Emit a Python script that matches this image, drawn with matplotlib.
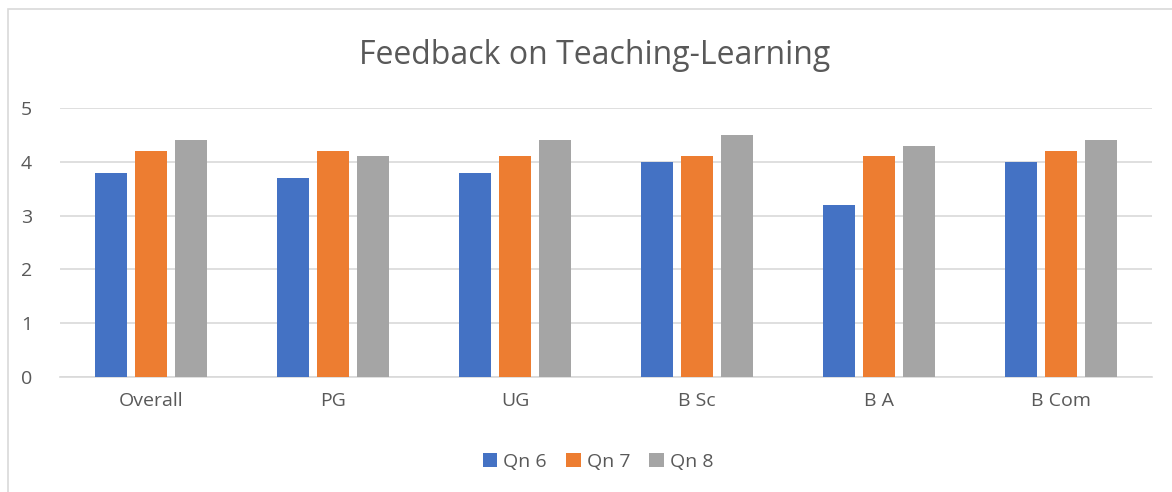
import matplotlib
matplotlib.use("Agg")
import matplotlib.pyplot as plt
import numpy as np
from matplotlib.patches import Rectangle

categories = ["Overall", "PG", "UG", "B Sc", "B A", "B Com"]
series_names = ["Qn 6", "Qn 7", "Qn 8"]
qn6 = [3.8, 3.7, 3.8, 4.0, 3.2, 4.0]
qn7 = [4.2, 4.2, 4.1, 4.1, 4.1, 4.2]
qn8 = [4.4, 4.1, 4.4, 4.5, 4.3, 4.4]
yticks = [0, 1, 2, 3, 4, 5]
colors = ["#4472C4", "#ED7D31", "#A5A5A5"]

plt.rcParams['font.family'] = ['Open Sans', 'DejaVu Sans']
W, H = 1172, 492
fig = plt.figure(figsize=(W / 100, H / 100), dpi=100)
ax = fig.add_axes([60 / W, 1 - 377 / H, (1152 - 60) / W, (377 - 108) / H])

x = np.arange(len(categories))
pitch = 0.22
width = 0.176
for i, (vals, name, c) in enumerate(zip([qn6, qn7, qn8], series_names, colors)):
    ax.bar(x + (i - 1) * pitch, vals, width=width, color=c, label=name, zorder=3)

ax.set_xlim(-0.5, len(categories) - 0.5)
ax.set_ylim(0, 5)
ax.set_yticks(yticks)
ax.set_xticks(x)
ax.set_xticklabels(categories)
ax.yaxis.grid(True, color="#D9D9D9", linewidth=1.2, zorder=0)
for s in ["top", "right", "left"]:
    ax.spines[s].set_visible(False)
ax.spines["bottom"].set_color("#D9D9D9")
ax.spines["bottom"].set_linewidth(1.2)
ax.tick_params(axis="both", length=0, labelsize=14, colors="#595959")
ax.tick_params(axis="y", pad=20)
ax.tick_params(axis="x", pad=11)

fig.text(595 / W, 1 - 55 / H, "Feedback on Teaching-Learning", ha="center", va="center",
         fontsize=23, color="#595959")

leg = fig.legend(loc="center", bbox_to_anchor=(598 / W, 1 - 462 / H), ncol=3, frameon=False,
                 fontsize=14, handlelength=0.75, handleheight=0.75, handletextpad=0.3,
                 columnspacing=1.0)
for t in leg.get_texts():
    t.set_color("#595959")

fig.patches.append(Rectangle((8 / W, -0.1), 1.2, 1 - 9 / H + 0.1, transform=fig.transFigure,
                             fill=False, edgecolor="#D9D9D9", linewidth=1.2))

fig.savefig("out.png", dpi=100)
